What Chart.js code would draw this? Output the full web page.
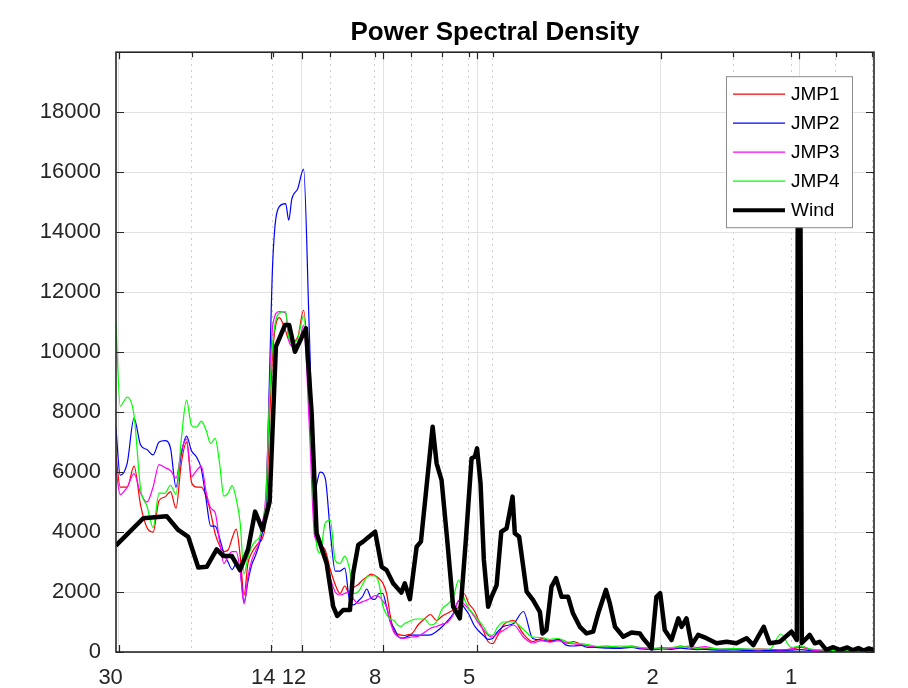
<!DOCTYPE html>
<html lang="en">
<head>
<meta charset="UTF-8">
<title>Power Spectral Density</title>
<script src="https://cdn.jsdelivr.net/npm/chart.js"></script>
<style>
  body { margin: 0; background: #fff; }
  #psd { display: block; }
</style>
</head>
<body>
<canvas id="psd" width="908" height="688"></canvas>
<script>
// frequency (1/period) of the sampled points for the four JMP sensors
const jmpFreq = [0.03288, 0.0336, 0.0348, 0.036, 0.0372, 0.0384, 0.0396, 0.0408, 0.042, 0.0432,
  0.0444, 0.0456, 0.0468, 0.048, 0.0492, 0.0504, 0.0516, 0.0528, 0.054, 0.0552,
  0.0564, 0.0576, 0.0588, 0.06, 0.0612, 0.0624, 0.0636, 0.0648, 0.066, 0.0672,
  0.0684, 0.0696, 0.0708, 0.072, 0.0744, 0.0768, 0.078, 0.0792, 0.0816, 0.084,
  0.0864, 0.0888, 0.0912, 0.0936, 0.096, 0.0984, 0.1008, 0.1032, 0.1056, 0.108,
  0.1104, 0.1128, 0.1152, 0.1176, 0.12, 0.1224, 0.1248, 0.1272, 0.1296, 0.132,
  0.1344, 0.1368, 0.1392, 0.1416, 0.144, 0.1488, 0.1536, 0.1584, 0.1632, 0.168,
  0.1728, 0.1776, 0.1824, 0.1872, 0.192, 0.1968, 0.2016, 0.2064, 0.2112, 0.216,
  0.2208, 0.228, 0.24, 0.252, 0.264, 0.276, 0.288, 0.3, 0.312, 0.324,
  0.336, 0.348, 0.36, 0.384, 0.408, 0.432, 0.456, 0.48, 0.504, 0.528,
  0.552, 0.576, 0.6, 0.624, 0.648, 0.672, 0.72, 0.768, 0.816, 0.864,
  0.912, 0.96, 1.008, 1.056, 1.104, 1.152, 1.2, 1.272, 1.344, 1.416, 1.452];

const jmp1Psd = [6600, 5500, 5500, 6200, 4900, 4150, 4000, 5050, 5170, 5350,
  4800, 6300, 7000, 5650, 5500, 5500, 5200, 4650, 3950, 3550,
  3350, 3400, 3800, 4100, 3200, 1900, 2950, 3300, 3500, 3650,
  3800, 4500, 7500, 10000, 11150, 10700, 10400, 10350, 10500, 11400,
  9000, 4800, 3650, 3400, 2750, 2250, 1950, 2200, 1950, 2150,
  2250, 2400, 2500, 2600, 2550, 2450, 2300, 1950, 1200, 700,
  600, 560, 550, 580, 600, 900, 1100, 1250, 1050, 1200,
  1300, 1400, 1500, 1950, 1600, 1400, 1050, 700, 350, 280,
  500, 900, 1050, 600, 350, 450, 380, 420, 300, 350,
  250, 200, 180, 150, 130, 200, 120, 100, 150, 120,
  200, 150, 100, 120, 100, 80, 100, 80, 100, 80,
  60, 100, 150, 90, 60, 50, 40, 30, 30, 20, 20];

const jmp2Psd = [7500, 5900, 6300, 7800, 6900, 6750, 6570, 7000, 7050, 6800,
  5500, 6600, 7200, 6700, 6500, 6100, 5100, 4200, 4200, 3800,
  3300, 3000, 2750, 2950, 2700, 1650, 2350, 2900, 3200, 3550,
  4000, 4900, 9000, 13000, 14850, 14950, 14400, 15100, 15450, 16100,
  10800, 5400, 6000, 5800, 4000, 2700, 2700, 2800, 1750, 1570,
  1700, 1850, 2100, 1800, 1750, 1950, 1950, 1500, 1000, 800,
  550, 460, 480, 530, 560, 560, 560, 570, 680, 850,
  1050, 1290, 1700, 1500, 1250, 900, 700, 550, 420, 450,
  650, 850, 950, 1350, 450, 400, 350, 420, 230, 200,
  220, 150, 150, 130, 120, 150, 100, 80, 100, 90,
  130, 100, 80, 90, 70, 60, 70, 50, 60, 50,
  50, 60, 80, 50, 40, 30, 30, 20, 20, 20, 20];

const jmp3Psd = [6100, 5250, 5500, 5950, 5300, 5000, 5500, 6250, 6150, 6050,
  5800, 6700, 7100, 5850, 6050, 6200, 5350, 4800, 4650, 3700,
  2950, 3200, 3350, 3350, 2700, 1600, 2500, 3050, 3350, 3650,
  4300, 5300, 8500, 10900, 11350, 11300, 10400, 10200, 10150, 10900,
  7600, 3850, 3600, 3000, 2450, 2000, 1900, 1950, 2000, 1750,
  1620, 1680, 1730, 1800, 1880, 1850, 1700, 1500, 1000, 650,
  520, 460, 460, 480, 500, 520, 650, 790, 850, 930,
  1000, 1250, 1720, 1600, 1420, 1200, 950, 750, 560, 500,
  600, 720, 900, 500, 300, 380, 330, 380, 300, 270,
  250, 200, 180, 200, 150, 180, 130, 100, 120, 130,
  150, 200, 150, 180, 130, 100, 110, 100, 80, 90,
  70, 100, 200, 80, 50, 40, 30, 30, 30, 20, 20];

const jmp4Psd = [11000, 8200, 8500, 7900, 5450, 4870, 4150, 5300, 5290, 5560,
  5250, 7100, 8400, 7550, 7500, 7700, 7400, 6950, 7120, 6300,
  5200, 5300, 5550, 5100, 4300, 2600, 3150, 3500, 3700, 3800,
  4200, 5100, 8300, 10300, 11300, 11350, 10500, 10300, 10450, 11200,
  8500, 4200, 3300, 4300, 4400, 3050, 2950, 3200, 2800, 1950,
  2010, 2250, 2500, 2550, 2540, 2300, 1550, 1250, 1100, 1050,
  900, 850, 950, 1000, 1060, 1100, 1100, 900, 1000, 1450,
  1600, 1850, 2400, 1800, 1450, 1250, 1050, 850, 600, 550,
  800, 1000, 1000, 750, 500, 480, 420, 450, 350, 300,
  280, 250, 200, 170, 200, 180, 150, 130, 130, 150,
  180, 160, 120, 140, 120, 100, 110, 100, 90, 100,
  600, 150, 200, 100, 80, 60, 50, 40, 40, 30, 30];

// wind spectrum, read at its own vertices
const windFreq = [0.03288, 0.0377, 0.04238, 0.0449, 0.04721, 0.04963, 0.05177, 0.05441, 0.0563, 0.0587,
  0.06115, 0.06365, 0.06593, 0.06842, 0.0709, 0.07315, 0.07654, 0.07819, 0.08045, 0.08498,
  0.08746, 0.08966, 0.09425, 0.09742, 0.09941, 0.1024, 0.1059, 0.1076, 0.1104, 0.1131,
  0.117, 0.1201, 0.1241, 0.1272, 0.1314, 0.1369, 0.1393, 0.1429, 0.1478, 0.151,
  0.1601, 0.1633, 0.1674, 0.1722, 0.1774, 0.1834, 0.189, 0.1945, 0.1977, 0.1999,
  0.2034, 0.2068, 0.2113, 0.2149, 0.2204, 0.2256, 0.2317, 0.2387, 0.2414, 0.2467,
  0.2561, 0.2645, 0.2736, 0.2772, 0.2827, 0.29, 0.2966, 0.305, 0.3151, 0.3228,
  0.3341, 0.3454, 0.3571, 0.3662, 0.3806, 0.3881, 0.3982, 0.415, 0.4325, 0.451,
  0.4582, 0.4781, 0.4898, 0.4992, 0.5107, 0.5282, 0.5465, 0.5554, 0.5693, 0.5842,
  0.6034, 0.629, 0.6614, 0.6958, 0.7303, 0.7685, 0.7951, 0.8374, 0.8628, 0.9077,
  0.9619, 0.9881, 0.9929, 1.0056, 1.0128, 1.0284, 1.0538, 1.0807, 1.1078, 1.1446,
  1.1856, 1.224, 1.272, 1.308, 1.344, 1.38, 1.416, 1.452];

const windPsd = [3550, 4460, 4530, 4070, 3840, 2820, 2840, 3420, 3200, 3200,
  2730, 3420, 4680, 4070, 5010, 10180, 10900, 10900, 10010, 10790,
  7960, 3960, 2960, 1510, 1200, 1400, 1400, 2620, 3570, 3680,
  3870, 4010, 2840, 2730, 2290, 1980, 2290, 1760, 3510, 3680,
  7510, 6290, 5730, 3730, 1510, 1120, 3730, 6460, 6510, 6790,
  5620, 3070, 1510, 1840, 2230, 4010, 4120, 5180, 3960, 3840,
  2010, 1730, 1340, 620, 730, 2180, 2460, 1840, 1840, 1290,
  840, 620, 680, 1290, 2070, 1620, 840, 510, 650, 620,
  460, 120, 1840, 1960, 730, 400, 1120, 840, 1120, 230,
  570, 460, 290, 340, 290, 460, 230, 840, 290, 340,
  680, 400, 16000, 16000, 300, 400, 570, 290, 340, 70,
  160, 70, 150, 60, 130, 50, 120, 60];

const seriesNames = ['JMP1', 'JMP2', 'JMP3', 'JMP4', 'Wind'];
const periodTicks = [30, 14, 12, 8, 5, 2, 1];
const minorGridFreq = [0.048, 0.072, 0.096, 0.12, 0.144, 0.168, 0.192, 0.216, 0.72, 0.96, 1.2, 1.44];

const fontFamily = '"Liberation Sans", Arial, Helvetica, sans-serif';
const axisColor = '#262626';
const freqMin = 0.0329, freqMax = 1.453;

function toPoints(freq, psd) {
    return freq.map((f, i) => ({ x: f, y: psd[i] }));
}

// axes box, inward tick marks and the boxed legend (matlab look)
const boxAndLegend = {
    id: 'boxAndLegend',
    afterDatasetsDraw(chart) {
        const { ctx, chartArea: a, scales } = chart;
        ctx.save();
        ctx.strokeStyle = axisColor;
        ctx.lineWidth = 1.2;
        ctx.beginPath();
        scales.x.ticks.forEach(t => {
            const px = Math.round(scales.x.getPixelForValue(t.value)) + 0.5;
            ctx.moveTo(px, a.bottom); ctx.lineTo(px, a.bottom - 7);
            ctx.moveTo(px, a.top); ctx.lineTo(px, a.top + 7);
        });
        scales.xMinor.ticks.forEach(t => {
            const px = Math.round(scales.xMinor.getPixelForValue(t.value)) + 0.5;
            ctx.moveTo(px, a.top); ctx.lineTo(px, a.top + 5);
        });
        scales.y.ticks.forEach(t => {
            const py = Math.round(scales.y.getPixelForValue(t.value)) + 0.5;
            ctx.moveTo(a.left, py); ctx.lineTo(a.left + 8, py);
            ctx.moveTo(a.right, py); ctx.lineTo(a.right - 8, py);
        });
        ctx.stroke();
        ctx.lineWidth = 1.6;
        ctx.strokeRect(a.left, a.top, a.right - a.left, a.bottom - a.top);

        // legend
        const lx = a.right - 148, ly = a.top + 24, lw = 126, lh = 151;
        ctx.fillStyle = '#ffffff';
        ctx.fillRect(lx, ly, lw, lh);
        ctx.strokeStyle = '#8a8a8a';
        ctx.lineWidth = 1;
        ctx.strokeRect(lx + 0.5, ly + 0.5, lw, lh);
        ctx.font = '19px ' + fontFamily;
        ctx.textBaseline = 'middle';
        chart.data.datasets.forEach((ds, i) => {
            const y = ly + 18 + i * 29;
            ctx.strokeStyle = ds.borderColor;
            ctx.lineWidth = ds.label === 'Wind' ? 4 : 1.2;
            ctx.beginPath();
            ctx.moveTo(lx + 7, y); ctx.lineTo(lx + 59, y);
            ctx.stroke();
            ctx.fillStyle = '#000';
            ctx.fillText(ds.label, lx + 65, y + 1);
        });
        ctx.restore();
    }
};

const jmpColors = ['#ff0000', '#0000ff', '#ff00ff', '#00ff00'];
const jmpSeries = [jmp1Psd, jmp2Psd, jmp3Psd, jmp4Psd];

const datasets = jmpSeries.map((psd, i) => ({
    label: seriesNames[i],
    data: toPoints(jmpFreq, psd),
    borderColor: jmpColors[i],
    borderWidth: 1.2,
    pointRadius: 0,
    cubicInterpolationMode: 'monotone',
    order: 5 - i
}));
datasets.push({
    label: seriesNames[4],
    data: toPoints(windFreq, windPsd),
    borderColor: '#000000',
    borderWidth: 4.5,
    borderJoinStyle: 'round',
    pointRadius: 0,
    tension: 0,
    order: 0
});

new Chart(document.getElementById('psd'), {
    type: 'line',
    data: { datasets: datasets },
    options: {
        responsive: false,
        animation: false,
        devicePixelRatio: 1,
        layout: { padding: { left: 0, right: 34, top: 0, bottom: 0 } },
        plugins: {
            legend: { display: false },
            tooltip: { enabled: false },
            title: {
                display: true,
                fullSize: false,
                text: 'Power Spectral Density',
                color: '#000',
                font: { family: fontFamily, size: 26, weight: 'bold' },
                padding: { top: 17, bottom: 4 }
            }
        },
        scales: {
            x: {
                type: 'logarithmic',
                min: freqMin,
                max: freqMax,
                afterBuildTicks: s => { s.ticks = periodTicks.map(p => ({ value: 1 / p })); },
                afterFit: s => { s.height = 36; },
                ticks: {
                    autoSkip: false,
                    maxRotation: 0,
                    padding: 13,
                    labelOffset: -8,
                    color: axisColor,
                    font: { family: fontFamily, size: 22 },
                    callback: (v, i) => String(periodTicks[i])
                },
                grid: {
                    color: c => c.index === 1 ? 'rgba(0,0,0,0)' : '#e2e2e2',
                    drawTicks: false
                },
                border: { display: false }
            },
            xMinor: {
                type: 'logarithmic',
                position: 'top',
                min: freqMin,
                max: freqMax,
                afterBuildTicks: s => { s.ticks = minorGridFreq.map(v => ({ value: v })); },
                afterFit: s => { s.height = 0; },
                ticks: { display: false },
                grid: { color: '#cccccc', drawTicks: false },
                border: { display: false, dash: [2, 4] }
            },
            y: {
                min: 0,
                max: 20000,
                afterFit: s => { s.width = 116; },
                ticks: {
                    stepSize: 2000,
                    padding: 15,
                    color: axisColor,
                    font: { family: fontFamily, size: 22 },
                    callback: v => v >= 20000 ? '' : String(v)
                },
                grid: { color: '#e2e2e2', drawTicks: false },
                border: { display: false }
            }
        }
    },
    plugins: [boxAndLegend]
});
</script>
</body>
</html>
